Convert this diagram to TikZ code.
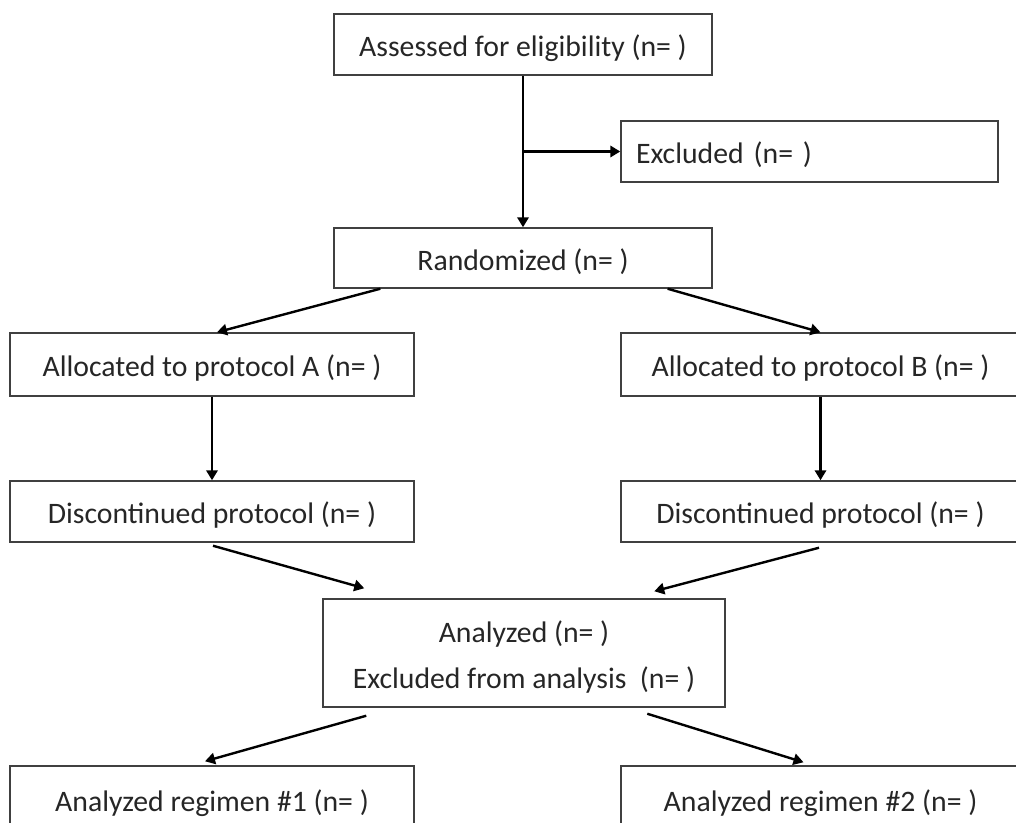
\documentclass[tikz,border=0pt]{standalone}
\usepackage{fontspec}
\setmainfont{Carlito}
\usetikzlibrary{arrows.meta,calc}
\begin{document}
\begin{tikzpicture}[x=0.75pt,y=-0.75pt,
  box/.style={draw=black!75,line width=1.1pt,inner sep=2pt,text=black!85,text height=21.5pt,
    font=\fontsize{22.3}{27}\selectfont},
  arr/.style={draw=black,line width=1.8pt,-{Triangle[length=7.5pt,width=8.5pt]}}]
\useasboundingbox (0,0) rectangle (1016,823);
\clip (0,0) rectangle (1016,823);

\node[box,minimum width=378*0.75pt,minimum height=61*0.75pt] (assess) at (523,44.5) {Assessed for eligibility (n= )};
\node[box,text width=347*0.75pt,inner xsep=15*0.75pt,align=left,minimum height=61*0.75pt] (excl) at (809.5,151.5) {Excluded (n= )};
\node[box,minimum width=378*0.75pt,minimum height=60*0.75pt] (rand) at (523,258) {Randomized (n= )};
\node[box,minimum width=404*0.75pt,minimum height=63*0.75pt] (allocA) at (212,364.5) {Allocated to protocol A (n= )};
\node[box,minimum width=399*0.75pt,minimum height=63*0.75pt] (allocB) at (820.5,364.5) {Allocated to protocol B (n= )};
\node[box,minimum width=404*0.75pt,minimum height=61*0.75pt] (discA) at (212,511.5) {Discontinued protocol (n= )};
\node[box,minimum width=399*0.75pt,minimum height=61*0.75pt] (discB) at (820.5,511.5) {Discontinued protocol (n= )};
\node[box,minimum width=402*0.75pt,minimum height=108*0.75pt,align=center,text height=58.5pt,text depth=4.6pt,
  font=\fontsize{22.3}{34.5}\selectfont] (anal) at (524,653) {Analyzed (n= )\\Excluded from analysis~~(n= )};
\node[box,minimum width=404*0.75pt,minimum height=68*0.75pt] (regA) at (212,800) {Analyzed regimen \#1 (n= )};
\node[box,minimum width=399*0.75pt,minimum height=68*0.75pt] (regB) at (820.5,800) {Analyzed regimen \#2 (n= )};

\draw[arr] (assess) -- (rand);
\coordinate (br) at (assess.south |- excl.west);
\draw[arr] (br) -- (excl.west);
\draw[arr] ($(rand.south west)!0.124!(rand.south east)$) -- ($(allocA.north)+(5,0)$);
\draw[arr] ($(rand.south west)!0.881!(rand.south east)$) -- (allocB.north);
\draw[arr] (allocA) -- (discA);
\draw[arr] (allocB) -- (discB);
\draw[arr] ($(discA.south)+(1,3)$) -- ($(anal.north west)+(42,-10)$);
\draw[arr] ($(discB.south)+(-1.5,5)$) -- ($(anal.north west)+(332,-7)$);
\draw[arr] ($(anal.south west)+(44,8)$) -- ($(regA.north)+(-7,-4)$);
\draw[arr] ($(anal.south west)+(325,6)$) -- ($(regB.north)+(-17,-3)$);
\end{tikzpicture}
\end{document}
